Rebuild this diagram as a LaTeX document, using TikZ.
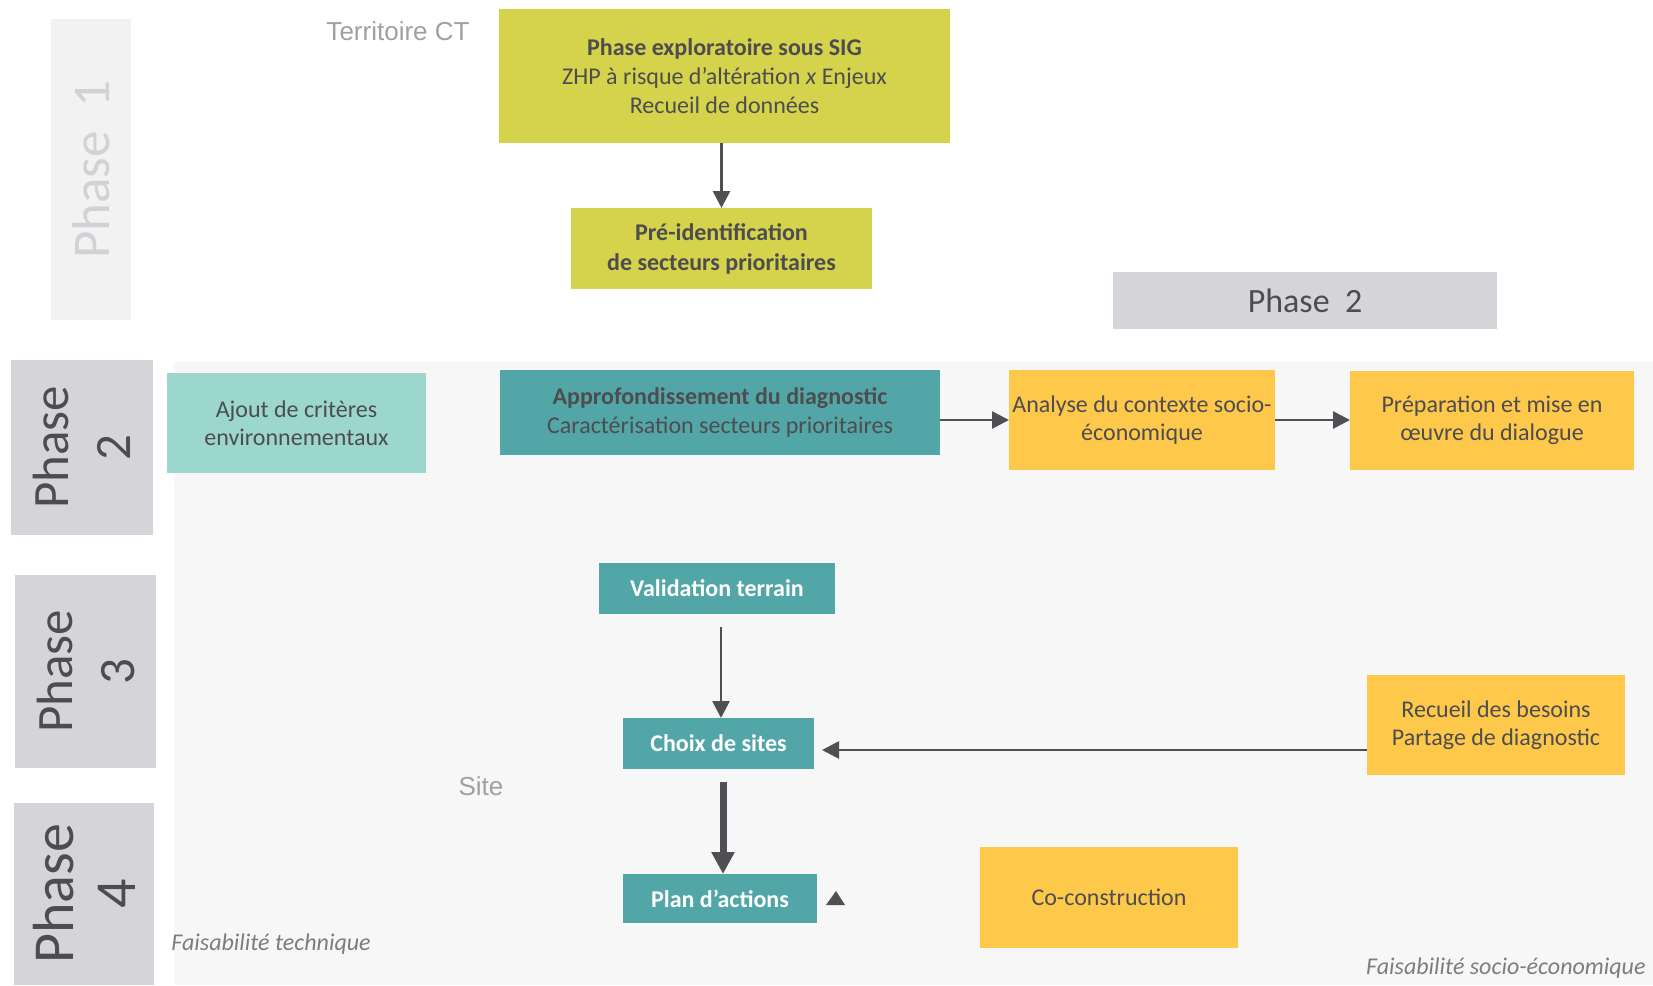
\documentclass[tikz,border=0pt]{standalone}
\usepackage{fontspec}
\setmainfont{Carlito}
\newfontfamily\arialf{Liberation Sans}
\usetikzlibrary{arrows.meta}
\definecolor{ygreen}{RGB}{213,210,76}
\definecolor{tealc}{RGB}{82,166,167}
\definecolor{lteal}{RGB}{155,215,204}
\definecolor{orangec}{RGB}{254,200,75}
\definecolor{phgray}{RGB}{213,212,216}
\definecolor{ph1fill}{RGB}{242,242,242}
\definecolor{ph1txt}{RGB}{210,209,213}
\definecolor{bgc}{RGB}{247,247,247}
\definecolor{txt}{RGB}{77,77,80}
\definecolor{arrc}{RGB}{80,80,84}
\definecolor{lblgray}{RGB}{160,160,164}
\definecolor{faisgray}{RGB}{125,125,128}
\begin{document}
\begin{tikzpicture}[x=0.5pt,y=-0.5pt,
  box/.style={inner sep=0pt, outer sep=0pt, align=center, text=txt, font=\fontsize{12}{14.5}\selectfont},
  sidebox/.style={fill=phgray, inner sep=0pt, outer sep=0pt},
  sidetxt/.style={rotate=90, align=center, text=txt, inner sep=0pt, font=\fontsize{25.5}{31}\selectfont},
  arr/.style={draw=arrc, line width=1.35pt, -{Triangle[width=8.5pt,length=8.5pt]}},
  thickarr/.style={draw=arrc, line width=3.5pt, -{Triangle[width=11pt,length=11pt]}},
  wtxt/.style={box, text=white, font=\fontsize{12}{14.5}\selectfont\bfseries},
  faistxt/.style={inner sep=0pt, text=faisgray, font=\fontsize{12}{14.5}\selectfont\itshape},
  lbltxt/.style={inner sep=0pt, text=lblgray, font=\arialf\fontsize{13}{15}\selectfont}
]
\useasboundingbox (0,0) rectangle (1653,985);
\fill[white] (0,0) rectangle (1653,985);
\fill[bgc] (174,362) rectangle (1653,985);

% Phase 1 side
\node[fill=ph1fill, inner sep=0pt, minimum width=40pt, minimum height=150.5pt] (ph1) at (91,169.5) {};
\node[rotate=90, inner sep=0pt, text=ph1txt, font=\fontsize{26.5}{31}\selectfont] (ph1t) at (ph1.center) {Phase\ \ 1};

\node[lbltxt] (terr) at (398,31) {Territoire CT};

% Phase 1 boxes
\node[box, fill=ygreen, minimum width=225.5pt, minimum height=67pt] (A) at (724.5,76)
  {\textbf{Phase exploratoire sous SIG}\\ZHP à risque d’altération \textit{x} Enjeux\\Recueil de données};
\node[box, fill=ygreen, minimum width=150.5pt, minimum height=40.5pt, font=\fontsize{12}{15}\selectfont\bfseries] (B) at (721.5,248.5)
  {Pré-identification\\de secteurs prioritaires};
\draw[arr] (B.north |- A.south) -- (B.north);

% Phase 2 top label
\node[sidebox, minimum width=192pt, minimum height=28.5pt, text=txt, font=\fontsize{17}{20}\selectfont] (ph2top) at (1305,300.5) {Phase\ \ 2};

% Side phase boxes
\node[sidebox, minimum width=71pt, minimum height=87.5pt] (ph2) at (82,447.5) {};
\node[sidetxt] (ph2t) at (ph2.center) {Phase\\2};
\node[sidebox, minimum width=70.5pt, minimum height=96.5pt] (ph3) at (85.5,671.5) {};
\node[sidetxt] (ph3t) at (ph3.center) {Phase\\3};
\node[sidebox, minimum width=70pt, minimum height=91pt] (ph4) at (84,894) {};
\node[sidetxt, font=\fontsize{29}{31}\selectfont] (ph4t) at (ph4.center) {Phase\\4};

% Phase 2 row
\node[box, fill=lteal, minimum width=129.5pt, minimum height=50pt, font=\fontsize{12}{14}\selectfont] (ajout) at (296.5,423)
  {Ajout de critères\\environnementaux};
\node[box, fill=tealc, minimum width=220pt, minimum height=42.5pt] (approf) at (720,412.5)
  {\textbf{Approfondissement du diagnostic}\\Caractérisation secteurs prioritaires};
\node[box, fill=orangec, minimum width=133pt, minimum height=50pt, font=\fontsize{12}{14}\selectfont] (analyse) at (1142,420)
  {Analyse du contexte socio-\\économique};
\node[box, fill=orangec, minimum width=142pt, minimum height=49.5pt, font=\fontsize{12}{14}\selectfont] (prep) at (1492,420.5)
  {Préparation et mise en\\œuvre du dialogue};
\draw[arr] (approf.east |- analyse.west) -- (analyse.west);
\draw[arr] (analyse.east) -- (prep.west |- analyse.east);

% Phase 3
\node[wtxt, fill=tealc, minimum width=118pt, minimum height=25.5pt] (valid) at (717,588.5) {Validation terrain};
\node[wtxt, fill=tealc, minimum width=95.5pt, minimum height=25.5pt] (choix) at (718.5,743.5) {Choix de sites};
\node[box, fill=orangec, minimum width=129pt, minimum height=50pt, font=\fontsize{12}{14}\selectfont] (recueil) at (1496,725)
  {Recueil des besoins\\Partage de diagnostic};
\draw[arr] ([xshift=2pt,yshift=-6.5pt]valid.south) -- ([xshift=1.25pt]choix.north);
\coordinate (ctip) at ([xshift=4pt,yshift=-3.25pt]choix.east);
\draw[arr] (recueil.west |- ctip) -- (ctip);

\node[lbltxt] (site) at (481,786) {Site};

% Phase 4
\node[wtxt, fill=tealc, minimum width=97pt, minimum height=24.5pt] (plan) at (720,898.5) {Plan d’actions};
\draw[thickarr] ([xshift=2.25pt,yshift=-6.5pt]choix.south) -- ([xshift=1.5pt]plan.north);
\fill[arrc] (826,905) -- (836,891) -- (845,905) -- cycle;
\node[box, fill=orangec, minimum width=129pt, minimum height=50.5pt] (cocon) at (1109,897.5) {Co-construction};

\node[faistxt, anchor=west] (faisT) at (171,944) {Faisabilité technique};
\node[faistxt, anchor=east] (faisS) at (1646,968) {Faisabilité socio-économique};
\end{tikzpicture}
\end{document}
